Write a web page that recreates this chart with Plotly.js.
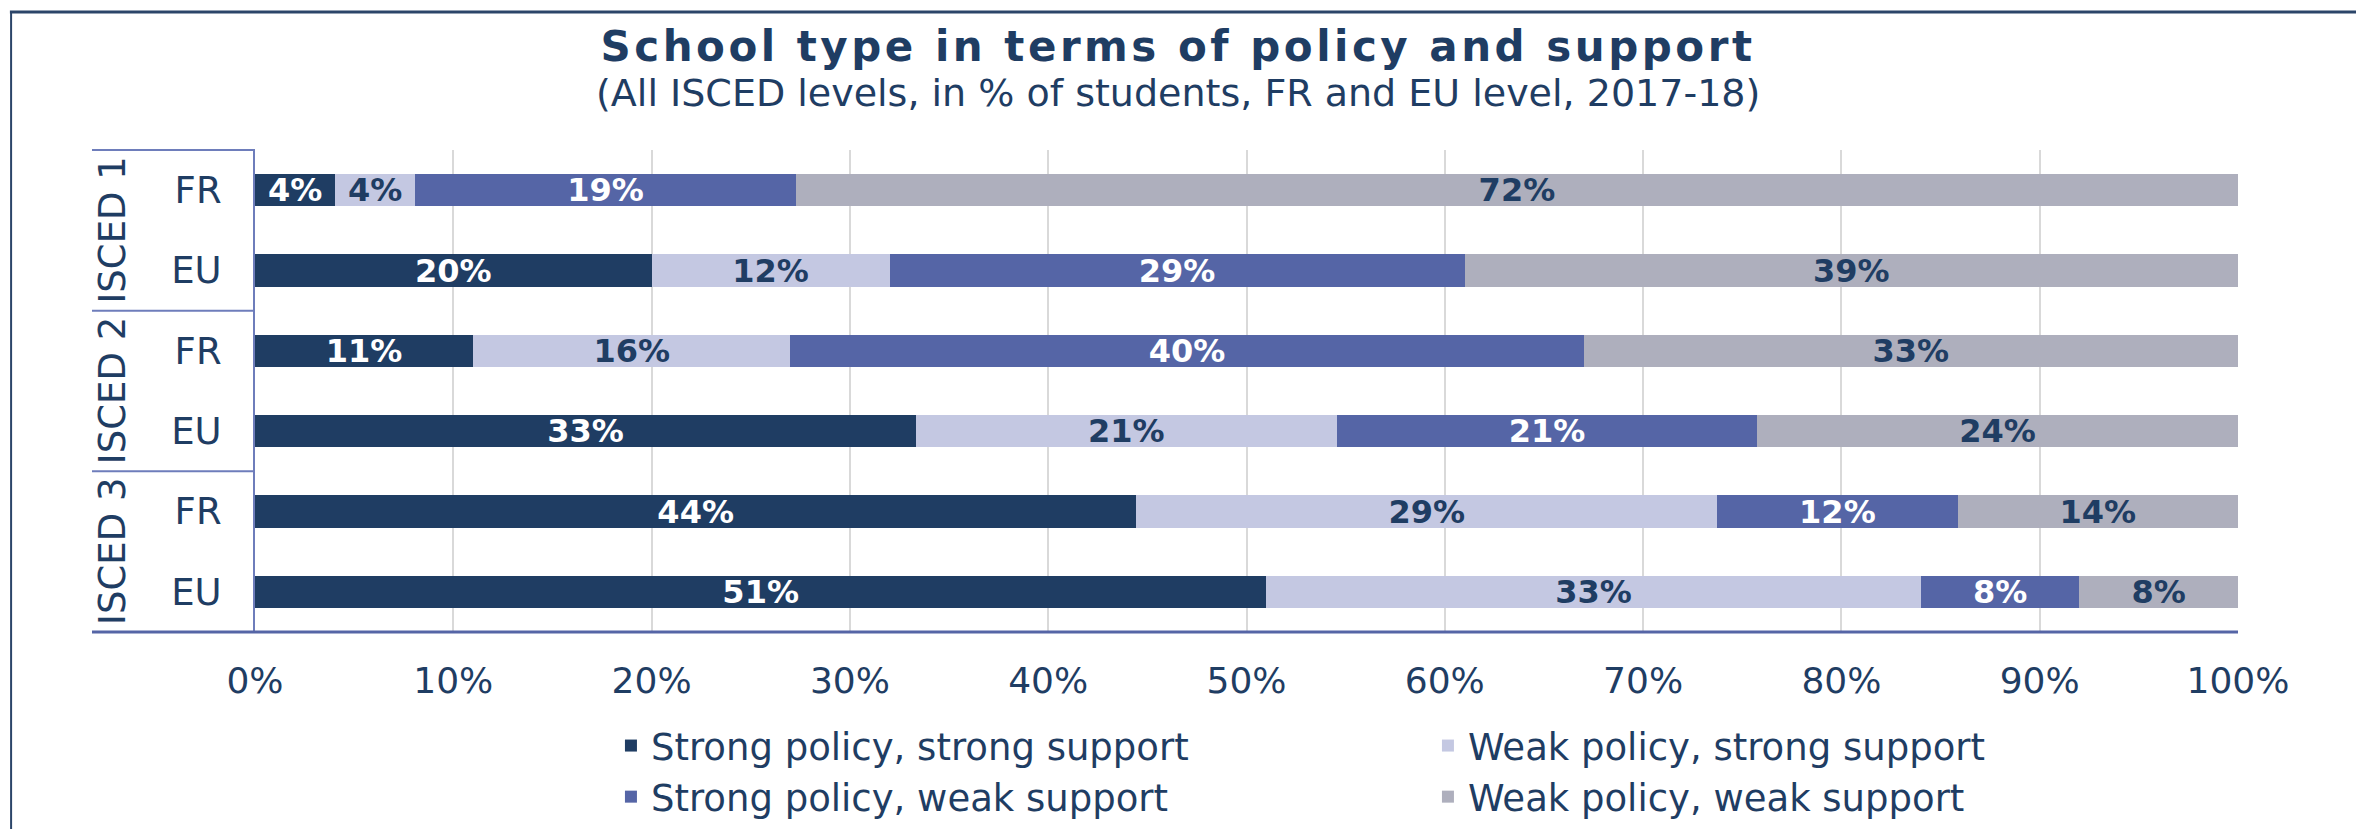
<!DOCTYPE html>
<html>
<head>
<meta charset="utf-8">
<script src="https://cdn.plot.ly/plotly-3.0.1.min.js"></script>
<style>
html,body{margin:0;padding:0;background:#fff;}
#chart{width:2356px;height:829px;}
#chart .gtitle{letter-spacing:3.5px;}
</style>
</head>
<body>
<div id="chart"></div>
<script>
// ---- data ----
const levels = ['ISCED 1', 'ISCED 1', 'ISCED 2', 'ISCED 2', 'ISCED 3', 'ISCED 3'];
const countries = ['FR', 'EU', 'FR', 'EU', 'FR', 'EU'];
const seriesNames = [
  'Strong policy, strong support',
  'Weak policy, strong support',
  'Strong policy, weak support',
  'Weak policy, weak support'
];
const strongStrong = [4, 20, 11, 33, 44, 51];
const weakStrong   = [4, 12, 16, 21, 29, 33];
const strongWeak   = [19, 29, 40, 21, 12, 8];
const weakWeak     = [72, 39, 33, 24, 14, 8];
const xTicks = [0, 10, 20, 30, 40, 50, 60, 70, 80, 90, 100];

// ---- styling ----
const NAVY = '#1F3D63';
const colors = ['#1F3D63', '#C4C8E2', '#5565A6', '#AEAFBD'];
const labelColors = ['#FFFFFF', NAVY, '#FFFFFF', NAVY];
const FONT = 'DejaVu Sans, Verdana, sans-serif';

const rowKeys = levels.map((l, i) => l + ' ' + countries[i]);
const values = [strongStrong, weakStrong, strongWeak, weakWeak];

const traces = values.map((vals, k) => ({
  type: 'bar',
  orientation: 'h',
  name: seriesNames[k],
  y: rowKeys,
  x: vals,
  text: vals.map(v => v + '%'),
  texttemplate: '%{text}',
  textposition: 'inside',
  insidetextanchor: 'middle',
  constraintext: 'none',
  textangle: 0,
  insidetextfont: {family: FONT, size: 32, color: labelColors[k], weight: 'bold'},
  marker: {color: colors[k], line: {width: 0}},
  hoverinfo: 'name+text'
}));

// group annotations (ISCED levels), placed at centre of their rows
const groups = [...new Set(levels)];
const annotations = groups.map(g => {
  const idx = levels.map((l, i) => l === g ? i : -1).filter(i => i >= 0);
  const mid = (idx[0] + idx[idx.length - 1]) / 2;
  return {
    text: g, xref: 'paper', yref: 'y', x: -0.072, y: mid,
    textangle: -90, showarrow: false, xanchor: 'center', yanchor: 'middle',
    font: {family: FONT, size: 37, color: NAVY}
  };
});
annotations.push({
  text: '(All ISCED levels, in % of students, FR and EU level, 2017-18)',
  xref: 'paper', yref: 'paper', x: 0.4655, y: 1.118, showarrow: false,
  xanchor: 'center', yanchor: 'middle',
  font: {family: FONT, size: 38, color: NAVY}
});

const LINE = '#6E7DBB';
const shapes = [];
// category box top
shapes.push({type: 'line', xref: 'paper', yref: 'paper', x0: -0.0822, x1: 0, y0: 1, y1: 1, line: {color: LINE, width: 2}});
// group separators
groups.slice(0, -1).forEach(g => {
  const last = levels.lastIndexOf(g);
  shapes.push({type: 'line', xref: 'paper', yref: 'y', x0: -0.0822, x1: 0, y0: last + 0.5, y1: last + 0.5, line: {color: LINE, width: 2}});
});
// bottom axis line
shapes.push({type: 'line', xref: 'paper', yref: 'paper', x0: -0.0822, x1: 1, y0: 0, y1: 0, line: {color: '#5565A6', width: 3}});
// outer frame (top and left)
shapes.push({type: 'line', xref: 'paper', yref: 'paper', x0: -0.1236, x1: 1.06, y0: 1.2863, y1: 1.2863, line: {color: '#2B4569', width: 3}});
shapes.push({type: 'line', xref: 'paper', yref: 'paper', x0: -0.1230, x1: -0.1230, y0: 1.2863, y1: -0.41, line: {color: '#2B4569', width: 2}});

const layout = {
  width: 2356, height: 829,
  margin: {l: 255, r: 118, t: 150, b: 197},
  paper_bgcolor: '#FFFFFF', plot_bgcolor: '#FFFFFF',
  barmode: 'stack', barnorm: 'percent', bargap: 0.6,
  font: {family: FONT, color: NAVY},
  title: {
    text: 'School type in terms of policy and support',
    xref: 'container', x: 0.5, xanchor: 'center',
    yref: 'container', y: 1 - 46 / 829, yanchor: 'middle',
    font: {family: FONT, size: 42, color: NAVY, weight: 'bold'}
  },
  xaxis: {
    range: [0, 100], tickvals: xTicks, ticktext: xTicks.map(v => v + '%'),
    showgrid: true, gridcolor: '#D9D9D9', gridwidth: 2, zeroline: false,
    showline: false, ticks: '', ticklabelstandoff: 24,
    tickfont: {family: FONT, size: 36, color: NAVY}, fixedrange: true
  },
  yaxis: {
    type: 'category', autorange: 'reversed',
    tickvals: rowKeys, ticktext: countries,
    showgrid: false, zeroline: false, showline: true, linecolor: LINE, linewidth: 2,
    ticks: '', ticklabelstandoff: 24,
    tickfont: {family: FONT, size: 37, color: NAVY}, fixedrange: true
  },
  showlegend: true,
  legend: {
    orientation: 'h', x: 0.1795, xanchor: 'left',
    yref: 'container', y: 1 - 715 / 829, yanchor: 'top',
    font: {family: FONT, size: 37, color: NAVY},
    entrywidth: 772, entrywidthmode: 'pixels', traceorder: 'normal',
    bgcolor: 'rgba(0,0,0,0)'
  },
  annotations: annotations,
  shapes: shapes
};

Plotly.newPlot('chart', traces, layout, {displayModeBar: false, staticPlot: true});
</script>
</body>
</html>
